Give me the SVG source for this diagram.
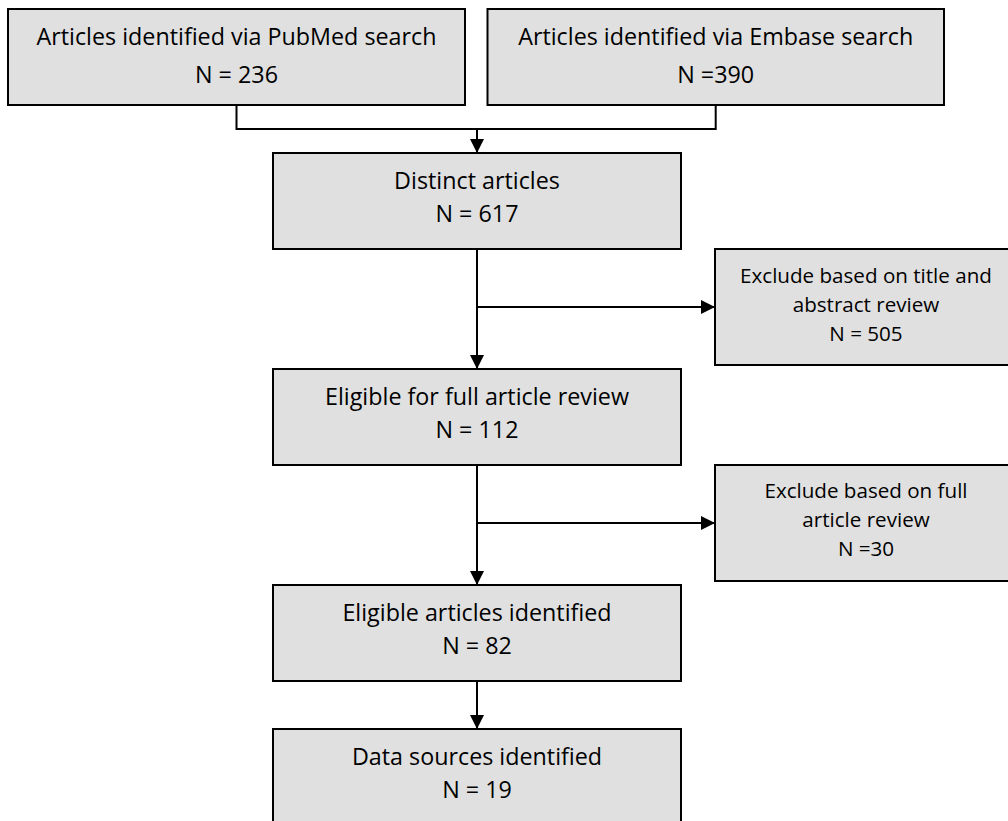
<svg xmlns="http://www.w3.org/2000/svg" width="1008" height="821" viewBox="0 0 1008 821">
<style>
.box{fill:#e0e0e0;stroke:#000;stroke-width:2}
.t{font-family:"Open Sans","Noto Sans","Liberation Sans",sans-serif;font-size:23.3px;fill:#000;text-anchor:middle}
.s{font-family:"Open Sans","Noto Sans","Liberation Sans",sans-serif;font-size:20.6px;fill:#000;text-anchor:middle}
.c{fill:none;stroke:#000;stroke-width:2}
</style>
<defs>
<marker id="ah" viewBox="0 0 14 14" refX="14" refY="7" markerWidth="14" markerHeight="14" markerUnits="userSpaceOnUse" orient="auto">
<path d="M0,0 L14,7 L0,14 Z" fill="#000"/>
</marker>
</defs>
<rect width="1008" height="821" fill="#fff"/>
<g id="connectors">
<path class="c" d="M236.5,105 V129 H715.7 V105"/>
<path class="c" d="M477,129 V153" marker-end="url(#ah)"/>
<path class="c" d="M477,249 V369" marker-end="url(#ah)"/>
<path class="c" d="M477,307 H715" marker-end="url(#ah)"/>
<path class="c" d="M477,465 V585" marker-end="url(#ah)"/>
<path class="c" d="M477,523 H715" marker-end="url(#ah)"/>
<path class="c" d="M477,681 V729" marker-end="url(#ah)"/>
</g>
<g id="pubmed">
<rect class="box" x="8" y="9" width="457" height="96"/>
<text class="t" x="236.5" y="45">Articles identified via PubMed search</text>
<text class="t" x="236.5" y="83">N = 236</text>
</g>
<g id="embase">
<rect class="box" x="487.5" y="9" width="456.5" height="96"/>
<text class="t" x="715.7" y="45">Articles identified via Embase search</text>
<text class="t" x="715.7" y="83">N =390</text>
</g>
<g id="distinct">
<rect class="box" x="273" y="153" width="408" height="96"/>
<text class="t" x="477" y="189">Distinct articles</text>
<text class="t" x="477" y="222">N = 617</text>
</g>
<g id="exclude1">
<rect class="box" x="715" y="249" width="302" height="116"/>
<text class="s" x="866" y="283">Exclude based on title and</text>
<text class="s" x="866" y="312">abstract review</text>
<text class="s" x="866" y="341">N = 505</text>
</g>
<g id="eligible-full">
<rect class="box" x="273" y="369" width="408" height="96"/>
<text class="t" x="477" y="405">Eligible for full article review</text>
<text class="t" x="477" y="438">N = 112</text>
</g>
<g id="exclude2">
<rect class="box" x="715" y="465" width="302" height="116"/>
<text class="s" x="866" y="498">Exclude based on full</text>
<text class="s" x="866" y="527">article review</text>
<text class="s" x="866" y="556">N =30</text>
</g>
<g id="eligible">
<rect class="box" x="273" y="585" width="408" height="96"/>
<text class="t" x="477" y="621">Eligible articles identified</text>
<text class="t" x="477" y="654">N = 82</text>
</g>
<g id="datasources">
<rect class="box" x="273" y="729" width="408" height="96"/>
<text class="t" x="477" y="765">Data sources identified</text>
<text class="t" x="477" y="798">N = 19</text>
</g>
</svg>
